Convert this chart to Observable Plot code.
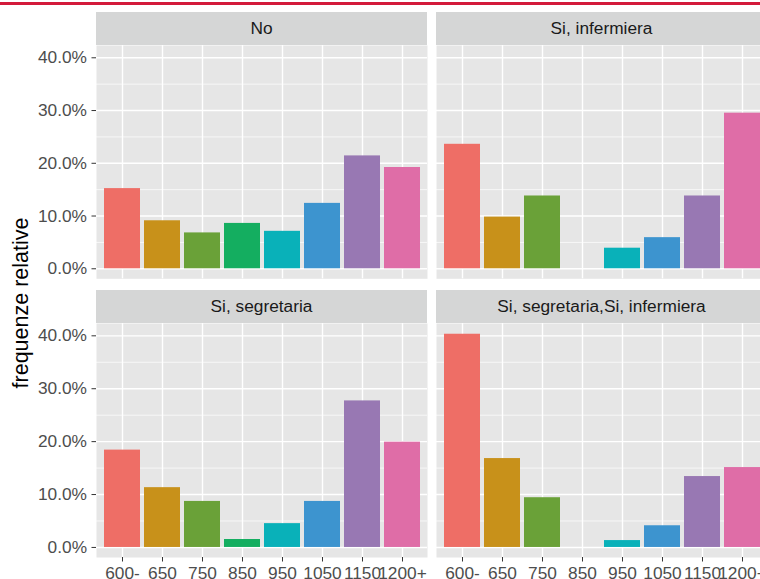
<!DOCTYPE html>
<html>
<head>
<meta charset="utf-8">
<script src="https://cdn.jsdelivr.net/npm/d3@7"></script>
<script src="https://cdn.jsdelivr.net/npm/@observablehq/plot@0.6"></script>
<style>
  html, body { margin: 0; padding: 0; background: #ffffff; }
  #chart { position: relative; width: 760px; height: 579px; overflow: hidden; background: #ffffff;
           font-family: "Liberation Sans", Arial, sans-serif; }
  .topline { position: absolute; left: 0; top: 2px; width: 760px; height: 2.5px; background: #D31A3B; }
  .strip { position: absolute; height: 33px; line-height: 33px; text-align: center; background: #D5D6D6;
           color: #1A1A1A; font-size: 17.3px; white-space: nowrap; overflow: hidden; }
  .ytitle { position: absolute; left: 21px; top: 303px; transform: translate(-50%, -50%) rotate(-90deg);
            font-size: 21.5px; color: #000; white-space: nowrap; }
  .panel { position: absolute; }
</style>
</head>
<body>
<div id="chart">
  <div class="topline"></div>
  <div class="ytitle">frequenze relative</div>
</div>
<script>
// Categories (x axis)
const categories = ["600-", "650", "750", "850", "950", "1050", "1150", "1200+"];
// Facet panels
const panels = ["No", "Si, infermiera", "Si, segretaria", "Si, segretaria,Si, infermiera"];
// Relative frequencies (%) per panel
const valuesNo = [15.2, 9.1, 6.8, 8.6, 7.1, 12.4, 21.4, 19.2];
const valuesInfermiera = [23.6, 9.8, 13.8, 0, 3.9, 5.9, 13.8, 29.5];
const valuesSegretaria = [18.4, 11.3, 8.7, 1.5, 4.5, 8.7, 27.7, 19.9];
const valuesEntrambi = [40.3, 16.8, 9.4, 0, 1.3, 4.1, 13.4, 15.1];
// Y tick values
const yTicks = [0, 0.1, 0.2, 0.3, 0.4];
const yMinor = [0.05, 0.15, 0.25, 0.35];
// Bar colours
const colors = ["#EE6E66", "#C8911A", "#6AA138", "#14AE60", "#09B1B9", "#3D94CF", "#9878B3", "#DF6DA7"];

const seriesList = [valuesNo, valuesInfermiera, valuesSegretaria, valuesEntrambi];

const chart = document.getElementById("chart");
const panelW = 331;
const panelLeft = [96, 436];
const stripTop = [12, 290];
const panelTop = [45, 323];
const panelH = [233.3, 234];

panels.forEach((name, i) => {
  const row = Math.floor(i / 2), col = i % 2;
  const data = categories.map((c, k) => ({cat: c, value: seriesList[i][k] / 100}));

  const strip = document.createElement("div");
  strip.className = "strip";
  strip.style.left = panelLeft[col] + "px";
  strip.style.top = stripTop[row] + "px";
  strip.style.width = panelW + "px";
  strip.textContent = name;
  chart.appendChild(strip);

  const showY = col === 0, showX = row === 1;
  const mL = showY ? 96 : 0;
  const mB = showX ? 30 : 0;
  const marks = [
    Plot.frame({fill: "#E6E6E6", stroke: "none"}),
    Plot.gridY({ticks: yMinor, stroke: "#ffffff", strokeOpacity: 1, strokeWidth: 0.7}),
    Plot.gridY({ticks: yTicks, stroke: "#ffffff", strokeOpacity: 1, strokeWidth: 1.4}),
    Plot.gridX({stroke: "#ffffff", strokeOpacity: 1, strokeWidth: 1.4}),
    Plot.barY(data, {x: "cat", y: "value", fill: "cat"})
  ];
  if (showY) marks.push(Plot.axisY({ticks: yTicks, tickFormat: d => (d * 100).toFixed(1) + "%",
    tickSize: 4.5, tickPadding: 5, fontSize: 17.3, stroke: "#333333", fill: "#4D4D4D", label: null}));
  if (showX) marks.push(Plot.axisX({tickSize: 4.5, tickPadding: 5, fontSize: 17.3,
    stroke: "#333333", fill: "#4D4D4D", label: null}));

  const svg = Plot.plot({
    width: mL + panelW,
    height: panelH[row] + mB,
    marginLeft: mL, marginRight: 0, marginTop: 0, marginBottom: mB,
    style: {background: "transparent", fontFamily: "'Liberation Sans', Arial, sans-serif", overflow: "visible"},
    x: {type: "band", domain: categories, paddingInner: 0.1, paddingOuter: 0.15, axis: showX ? undefined : null},
    y: {domain: [-0.019, 0.4233], axis: showY ? undefined : null},
    color: {domain: categories, range: colors},
    marks
  });
  svg.classList.add("panel");
  svg.style.position = "absolute";
  svg.style.left = (panelLeft[col] - mL) + "px";
  svg.style.top = panelTop[row] + "px";
  chart.appendChild(svg);
});
</script>
</body>
</html>
